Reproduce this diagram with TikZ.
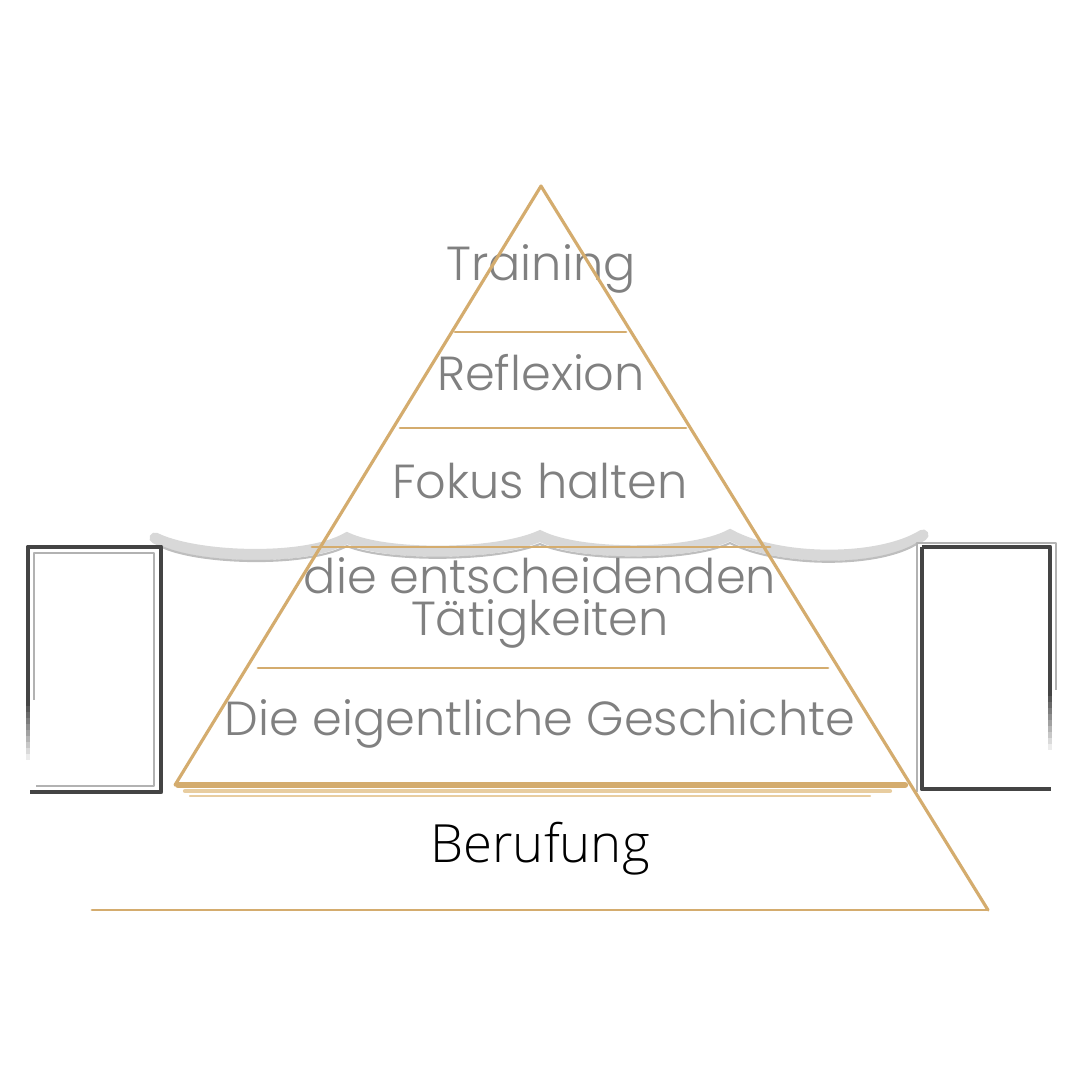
\documentclass[tikz,border=0pt]{standalone}
\usepackage{fontspec}
\setmainfont{Poppins}[UprightFont=* Light]
\newfontfamily\baseface{Open Sans}[UprightFont=* Light]
\usetikzlibrary{positioning}

\definecolor{gold}{RGB}{212,172,110}
\definecolor{goldlight}{RGB}{232,205,160}
\definecolor{textgray}{RGB}{128,128,128}
\definecolor{pillardark}{RGB}{68,68,68}
\definecolor{pillarlight}{RGB}{178,178,178}
\definecolor{wavelight}{RGB}{216,216,216}
\definecolor{wavedark}{RGB}{190,190,190}

\begin{document}
\begin{tikzpicture}[
  x=0.1mm,y=-0.1mm,
  layer/.style={text=textgray,font=\fontsize{13.6}{11.8}\selectfont,anchor=base,inner sep=0pt},
  rim/.style={draw=gold,line width=0.9pt,line cap=round,line join=round},
  tier/.style={draw=gold,line width=0.8pt,line cap=round},
  pillar/.style={draw=pillardark,line width=1.4pt,line join=round},
  pillaredge/.style={draw=pillarlight,line width=0.6pt,line join=round},
  wave/.style={draw=wavelight,line width=3.2pt,line cap=round}
]
  \useasboundingbox (0,0) rectangle (1081,1089);

  % water line
  \draw[wave] (155,538) .. controls (195,558) and (305,562) .. (347,538)
    .. controls (385,556) and (495,556) .. (540,536)
    .. controls (580,556) and (690,556) .. (730,535)
    .. controls (780,562) and (880,562) .. (923,535);
  \draw[draw=wavedark,line width=0.6pt] (160,546) .. controls (195,564) and (305,568) .. (347,546)
    .. controls (385,562) and (495,562) .. (540,544)
    .. controls (580,562) and (690,562) .. (730,543)
    .. controls (780,568) and (880,568) .. (918,543);

  % left pillar
  \draw[pillaredge] (34,700) -- (34,553) -- (154,553) -- (154,786) -- (36,786);
  \draw[pillar] (28,700) -- (28,547) -- (161,547) -- (161,792) -- (30,792);
  \foreach \i in {0,...,9}
    \draw[pillar,draw opacity=1-\i/10] (28,{700+\i*6}) -- (28,{706+\i*6});

  % right pillar
  \draw[pillaredge] (917,792) -- (917,543) -- (1056,543) -- (1056,690);
  \draw[pillar] (922,547) -- (922,789) -- (1051,789);
  \draw[pillar] (922,547) -- (1050,547) -- (1050,690);
  \foreach \i in {0,...,9}
    \draw[pillar,draw opacity=1-\i/10] (1050,{690+\i*6}) -- (1050,{696+\i*6});

  % labels
  \node[layer] (training) at (541,280) {Training};
  \node[layer] (reflexion) at (541,390) {Reflexion};
  \node[layer] (fokus) at (540,498) {Fokus halten};
  \node[layer,anchor=center,align=center] (taetigkeiten) at (540,603) {die entscheidenden\\Tätigkeiten};
  \node[layer] (geschichte) at (540,735) {Die eigentliche Geschichte};
  \node[anchor=base,inner sep=0pt,font=\baseface\fontsize{15}{16}\selectfont] (berufung) at (540,862) {Berufung};

  % pyramid
  \draw[rim] (175,785) -- (541,186) -- (988,910);
  \draw[tier] (92,910) -- (988,910);
  \draw[tier] (455,332) -- (626,332);
  \draw[tier] (400,428) -- (686,428);
  \draw[tier] (312,547) -- (770,547);
  \draw[tier] (258,668) -- (828,668);
  \draw[tier,line width=1.8pt] (178,785) -- (905,785);
  \draw[draw=goldlight,line width=1.2pt,line cap=round] (185,791) -- (890,791);
  \draw[draw=goldlight,line width=0.6pt,line cap=round] (190,796) -- (870,796);
\end{tikzpicture}
\end{document}
